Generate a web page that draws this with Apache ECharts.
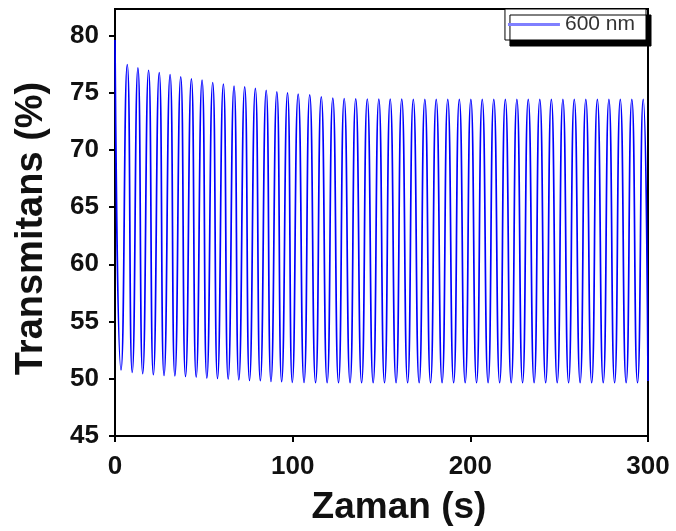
<!DOCTYPE html>
<html>
<head>
<meta charset="utf-8">
<script src="https://cdn.jsdelivr.net/npm/echarts@6/dist/echarts.min.js"></script>
<style>
html,body{margin:0;padding:0;background:#fff;}
#chart{width:676px;height:531px;}
</style>
</head>
<body>
<div id="chart"></div>
<script>
// Peak (maxima) times in s and values in %
var peakTimes = [0, 6.9, 12.9, 18.9, 24.9, 31.0, 37.0, 43.0, 49.0, 55.0, 61.0, 67.0, 73.0, 79.0, 85.1, 91.1, 97.1, 103.1,
  109.6, 116.1, 122.6, 129.0, 135.5, 142.0, 148.5, 154.9, 161.4, 167.9, 174.4, 180.8, 187.3, 193.8, 200.3, 206.7,
  213.2, 219.7, 226.2, 232.6, 239.1, 245.6, 252.1, 258.5, 265.0, 271.5, 278.0, 284.4, 290.9, 297.3];
var peakValues = [79.6, 77.45, 77.15, 76.95, 76.75, 76.57, 76.37, 76.2, 76.08, 75.88, 75.73, 75.56, 75.5, 75.36, 75.2, 75.06, 74.98, 74.86,
  74.8, 74.62, 74.52, 74.48, 74.45, 74.44, 74.43, 74.42, 74.42, 74.41, 74.41, 74.4, 74.4, 74.4, 74.4, 74.4,
  74.4, 74.4, 74.4, 74.4, 74.4, 74.4, 74.4, 74.4, 74.4, 74.4, 74.4, 74.4, 74.4, 74.4];
// Trough (minima) times in s and values in %
var troughTimes = [3.4, 9.7, 15.6, 21.6, 27.6, 33.7, 39.7, 45.7, 51.7, 57.7, 63.7, 69.7, 75.7, 81.8, 87.8, 93.8, 99.8,
  106.4, 112.9, 119.4, 125.8, 132.3, 138.8, 145.3, 151.7, 158.2, 164.7, 171.2, 177.6, 184.1, 190.6, 197.1, 203.5,
  210.0, 216.5, 223.0, 229.4, 235.9, 242.4, 248.9, 255.3, 261.8, 268.3, 274.8, 281.2, 287.7, 294.1, 300];
var troughValues = [50.78, 50.55, 50.44, 50.35, 50.29, 50.26, 50.2, 50.15, 50.06, 50.03, 49.97, 49.91, 49.85, 49.83, 49.76, 49.74, 49.68,
  49.68, 49.66, 49.65, 49.65, 49.65, 49.65, 49.65, 49.65, 49.65, 49.65, 49.65, 49.65, 49.65, 49.65, 49.65, 49.65,
  49.65, 49.65, 49.65, 49.65, 49.65, 49.65, 49.65, 49.65, 49.65, 49.65, 49.65, 49.65, 49.65, 49.65, 49.8];
var yTicks = [45, 50, 55, 60, 65, 70, 75, 80];
var xTicks = [0, 100, 200, 300];
var seriesName = '600 nm';

var data = [];
for (var i = 0; i < peakTimes.length; i++) {
  data.push([peakTimes[i], peakValues[i]]);
  data.push([troughTimes[i], troughValues[i]]);
}

var FONT = 'Liberation Sans, Arial, Helvetica, sans-serif';
var chart = echarts.init(document.getElementById('chart'), null, {renderer: 'canvas'});
chart.setOption({
  animation: false,
  backgroundColor: '#fff',
  grid: {left: 115, right: 28, top: 9, bottom: 93, show: true, borderColor: '#000', borderWidth: 2, backgroundColor: 'transparent'},
  legend: {
    right: 30, top: 9,
    padding: [5, 11, 5, 3],
    backgroundColor: '#fff',
    borderColor: '#000', borderWidth: 1,
    shadowColor: '#000', shadowBlur: 0, shadowOffsetX: 5, shadowOffsetY: 6,
    itemWidth: 52, itemHeight: 3,
    textStyle: {fontFamily: FONT, fontSize: 21, color: '#333'},
    data: [{name: seriesName, icon: 'rect', itemStyle: {color: '#7f7fff'}}]
  },
  xAxis: {
    type: 'value', min: 0, max: 300, interval: 100,
    name: 'Zaman (s)', nameLocation: 'middle', nameGap: 53,
    nameTextStyle: {fontFamily: FONT, fontSize: 37, fontWeight: 'bold', color: '#111', padding: [0, 0, 0, 35]},
    axisLine: {show: true, lineStyle: {color: '#000', width: 2}},
    axisTick: {show: true, length: 6, lineStyle: {color: '#000', width: 2}, customValues: xTicks},
    axisLabel: {fontFamily: FONT, fontSize: 26, fontWeight: 'bold', color: '#111', margin: 18, customValues: xTicks},
    splitLine: {show: false}
  },
  yAxis: {
    type: 'value', min: 45, max: 82.3, interval: 5,
    name: 'Transmitans (%)', nameLocation: 'middle', nameGap: 64,
    nameTextStyle: {fontFamily: FONT, fontSize: 38, fontWeight: 'bold', color: '#111', padding: [0, 12, 0, 0]},
    axisLine: {show: true, lineStyle: {color: '#000', width: 2}},
    axisTick: {show: true, length: 6, lineStyle: {color: '#000', width: 2}, customValues: yTicks},
    axisLabel: {fontFamily: FONT, fontSize: 26, fontWeight: 'bold', color: '#111', margin: 16, customValues: yTicks},
    splitLine: {show: false}
  },
  series: [{
    name: seriesName,
    type: 'line',
    data: data,
    smooth: 0.6,
    showSymbol: false,
    symbol: 'none',
    lineStyle: {color: '#0000ff', width: 1.7},
    itemStyle: {color: '#0000ff'}
  }]
});
</script>
</body>
</html>
